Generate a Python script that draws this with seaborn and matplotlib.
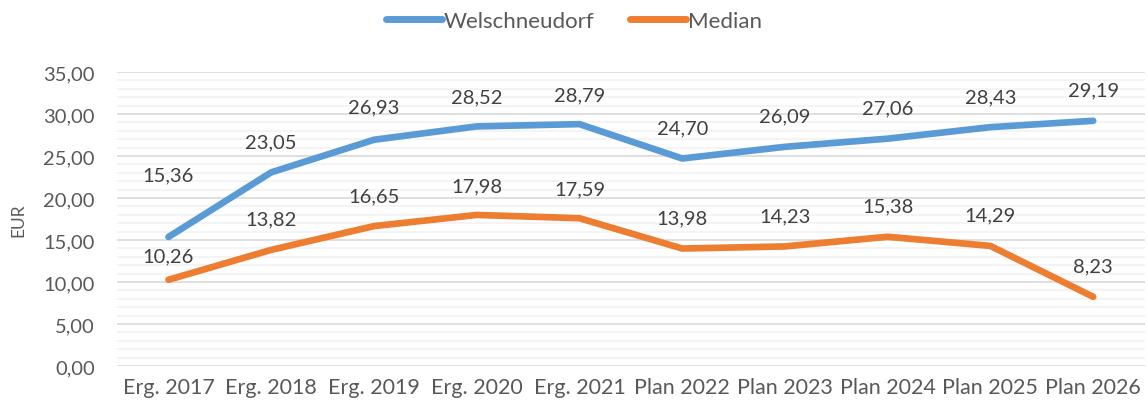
import pandas as pd
import matplotlib.pyplot as plt
import seaborn as sns
from matplotlib.ticker import MultipleLocator, FuncFormatter

# %% Daten
jahre = ['Erg. 2017', 'Erg. 2018', 'Erg. 2019', 'Erg. 2020', 'Erg. 2021',
         'Plan 2022', 'Plan 2023', 'Plan 2024', 'Plan 2025', 'Plan 2026']
welschneudorf = [15.36, 23.05, 26.93, 28.52, 28.79, 24.70, 26.09, 27.06, 28.43, 29.19]
median = [10.26, 13.82, 16.65, 17.98, 17.59, 13.98, 14.23, 15.38, 14.29, 8.23]

df = pd.DataFrame({
    'Jahr': jahre * 2,
    'Wert': welschneudorf + median,
    'Reihe': ['Welschneudorf'] * len(jahre) + ['Median'] * len(jahre),
})

# %%
sns.set_theme(style='white')
plt.rcParams['font.family'] = ['Lato', 'DejaVu Sans']
grau = '#595959'
farben = {'Welschneudorf': '#5B9BD5', 'Median': '#ED7D31'}

fig = plt.figure(figsize=(11.48, 4.10), dpi=100)
ax = fig.add_axes([0.102, 0.105, 0.895, 0.717])

sns.lineplot(data=df, x='Jahr', y='Wert', hue='Reihe', palette=farben,
             linewidth=4.8, sort=False, ax=ax, solid_capstyle='round')

# Datenbeschriftungen (erste Punkte leicht verschoben wie im Original)
offs_w = [45, 22, 24, 21, 21, 22, 22, 22, 22, 22]
offs_m = [17, 22, 22, 21, 21, 22, 22, 22, 22, 22]
for i, (w, m) in enumerate(zip(welschneudorf, median)):
    ax.annotate(f'{w:.2f}'.replace('.', ','), (i, w), xytext=(0, offs_w[i]),
                textcoords='offset points', ha='center', va='center',
                fontsize=14.5, color='#404040')
    ax.annotate(f'{m:.2f}'.replace('.', ','), (i, m), xytext=(0, offs_m[i]),
                textcoords='offset points', ha='center', va='center',
                fontsize=14.5, color='#404040')

ax.set_xlim(-0.5, 9.5)
ax.set_ylim(0, 35)
ax.yaxis.set_major_locator(MultipleLocator(5))
ax.yaxis.set_minor_locator(MultipleLocator(1))
ax.yaxis.set_major_formatter(FuncFormatter(lambda v, p: f'{v:.2f}'.replace('.', ',')))
ax.grid(which='major', axis='y', color='#D9D9D9', linewidth=1.2)
ax.grid(which='minor', axis='y', color='#F2F2F2', linewidth=1.2)
ax.set_axisbelow(True)
for s in ax.spines.values():
    s.set_visible(False)
ax.tick_params(axis='both', which='both', length=0, colors=grau)
ax.tick_params(axis='y', pad=16, labelsize=14.5)
ax.tick_params(axis='x', pad=8, labelsize=15.5)
ax.set_xlabel('')
ax.set_ylabel('EUR', fontsize=12.5, color=grau, labelpad=12)

leg = ax.legend(loc='center', bbox_to_anchor=(0.5, 0.946), bbox_transform=fig.transFigure,
                ncol=2, frameon=False, fontsize=16, handlelength=2.5,
                handletextpad=0.1, columnspacing=1.6)
for t in leg.get_texts():
    t.set_color(grau)
for l in leg.get_lines():
    l.set_linewidth(5)
    l.set_solid_capstyle('round')

plt.savefig('out.png', dpi=100)
